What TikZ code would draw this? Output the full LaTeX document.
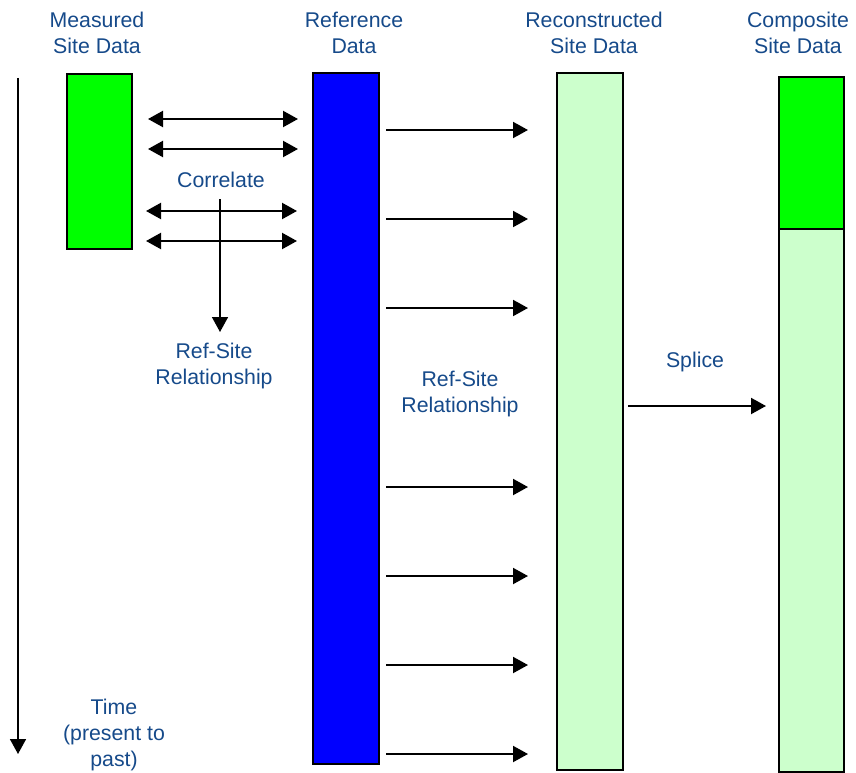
\documentclass[tikz,border=0pt]{standalone}
\usepackage{fontspec}
\setmainfont{Liberation Sans}
\usetikzlibrary{arrows.meta}
\definecolor{txtblue}{HTML}{164A8A}
\definecolor{brightgreen}{HTML}{00FF00}
\definecolor{paleg}{HTML}{CCFFCC}
\definecolor{refblue}{HTML}{0000FF}
\tikzset{
  bar/.style={draw=black, line width=2pt, inner sep=0pt, anchor=north west},
  lbl/.style={text=txtblue, align=center, font=\fontsize{21.3}{26}\selectfont, inner sep=0pt},
  arr/.style={line width=2pt, -{Triangle[length=15pt,width=16pt]}},
  darr/.style={line width=2.2pt, {Triangle[length=15pt,width=16pt]}-{Triangle[length=15pt,width=16pt]}},
  thinarr/.style={line width=1.6pt, -{Triangle[length=15pt,width=16pt]}}
}
\begin{document}
\begin{tikzpicture}[x=1pt,y=-1pt]
\useasboundingbox (0,0) rectangle (856,773);
% bars
\node[bar, fill=brightgreen, minimum width=65, minimum height=175] (meas) at (66,73) {};
\node[bar, fill=refblue, minimum width=66, minimum height=691] (ref) at (312,72) {};
\node[bar, fill=paleg, minimum width=66, minimum height=697] (recon) at (556,72) {};
\node[bar, fill=paleg, minimum width=65, minimum height=543] (compB) at (778,228) {};
\node[bar, fill=brightgreen, minimum width=65, minimum height=152] (compT) at (778,76) {};
% labels
\node[lbl] (lmeas) at (97,33) {Measured\\Site Data};
\node[lbl] (lref) at (354,33) {Reference\\Data};
\node[lbl] (lrecon) at (594,33) {Reconstructed\\Site Data};
\node[lbl] (lcomp) at (798,33) {Composite\\Site Data};
\node[lbl] (lcorr) at (221,180) {Correlate};
\node[lbl] (lrs1) at (214,366) {Ref-Site\\Relationship};
\node[lbl] (lrs2) at (460,394) {Ref-Site\\Relationship};
\node[lbl] (lsplice) at (695,362) {Splice};
\node[lbl] (ltime) at (114,735) {Time\\(present to\\past)};
% time axis
\coordinate (t0) at (18,78);
\coordinate (t1) at (18,754);
\draw[thinarr] (t0) -- (t1);
% correlate double arrows
\foreach \y/\a/\b in {119/148/298, 149/148/298, 211/146/297, 241/146/297}{
  \coordinate (dl\y) at (\a,\y);
  \coordinate (dr\y) at (\b,\y);
  \draw[darr] (dl\y) -- (dr\y);
}
% correlate to relationship
\coordinate (c0) at (220,199);
\coordinate (c1) at (220,332);
\draw[thinarr] (c0) -- (c1);
% reference to reconstructed
\foreach \y in {130,219,308,487,576,665,754}{
  \coordinate (ra\y) at (386,\y);
  \coordinate (rb\y) at (528,\y);
  \draw[arr] (ra\y) -- (rb\y);
}
% splice
\coordinate (s0) at (628,406);
\coordinate (s1) at (766,406);
\draw[arr] (s0) -- (s1);
\end{tikzpicture}
\end{document}
